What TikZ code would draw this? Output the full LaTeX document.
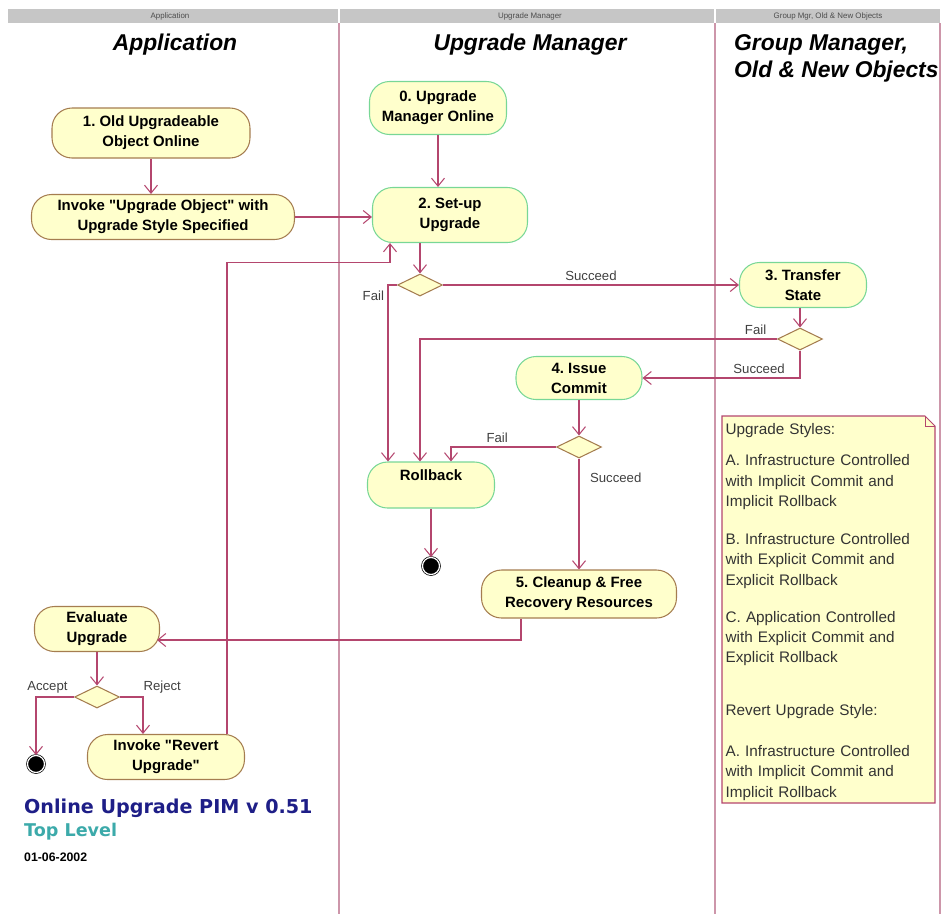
\documentclass[tikz,border=0pt]{standalone}
\usepackage{fontspec}
\setmainfont{Liberation Sans}
\newfontfamily\pimfont{DejaVu Sans}
\usetikzlibrary{arrows.meta, positioning, calc, shapes.geometric, backgrounds}
\definecolor{lanec}{RGB}{205,150,170}
\definecolor{flowc}{RGB}{180,70,110}
\definecolor{statefill}{RGB}{255,255,204}
\definecolor{brownedge}{RGB}{165,125,80}
\definecolor{greenedge}{RGB}{120,215,150}
\definecolor{pimblue}{RGB}{30,30,135}
\definecolor{levelteal}{RGB}{60,170,170}
\frenchspacing
\tikzset{
    >={Straight Barb[length=1.6mm, width=2.6mm]},
    act/.style={rectangle, rounded corners=0.4cm, fill=statefill, draw=brownedge,
        line width=0.6pt, align=center, inner sep=1pt,
        font=\bfseries\fontsize{8.5}{11.3}\selectfont},
    actg/.style={act, draw=greenedge},
    choice/.style={diamond, minimum width=0.9cm, minimum height=0.44cm,
        inner sep=0pt, fill=statefill, draw=brownedge, line width=0.6pt},
    final/.style={circle, fill=black, draw=black, double=white,
        double distance=0.7pt, minimum size=0.34cm, inner sep=0pt},
    flow/.style={->, draw=flowc, line width=0.6pt},
    guard/.style={font=\fontsize{7.5}{9}\selectfont, text=black!75, inner sep=2pt},
    lanetitle/.style={font=\bfseries\itshape\fontsize{13}{15.3}\selectfont},
    hdr/.style={font=\fontsize{4.5}{5}\selectfont, text=black!70}
}
\begin{document}
\begin{tikzpicture}[x=0.02cm, y=-0.02cm]
    \useasboundingbox (0,0) rectangle (943,914);
    % header bar
    \fill [gray!45] (8,9) rectangle (940,23);
    \foreach \x in {339, 715} {
        \draw [white, line width=1pt] (\x,9) -- (\x,23);
    }
    \node[hdr] (hA) at (170,16) {Application};
    \node[hdr] (hU) at (530,16) {Upgrade Manager};
    \node[hdr] (hG) at (828,16) {Group Mgr, Old \& New Objects};
    % swimlanes
    \foreach \x in {339, 715, 940} {
        \draw [lanec, line width=0.8pt] (\x,23) -- (\x,914);
    }
    \node[lanetitle] (tA) at (175,45) {Application};
    \node[lanetitle] (tU) at (530,45) {Upgrade Manager};
    \node[lanetitle, anchor=west, align=left] (tG) at (728,58) {Group Manager,\\Old \& New Objects};
    % activities
    \node[act, minimum width=3.96cm, minimum height=1cm] (old) at (151,133) {1. Old Upgradeable\\Object Online};
    \node[act, minimum width=5.26cm, minimum height=0.9cm] (inv) at (163,217) {Invoke \textquotedbl Upgrade Object\textquotedbl{} with\\Upgrade Style Specified};
    \node[actg, minimum width=2.74cm, minimum height=1.06cm] (umon) at (438,108) {0. Upgrade\\Manager Online};
    \node[actg, minimum width=3.1cm, minimum height=1.1cm] (setup) at (450,215) {2. Set-up\\Upgrade};
    \node[choice] (d1) at (420,285) {};
    \node[actg, minimum width=2.54cm, minimum height=0.9cm] (xfer) at (803,285) {3. Transfer\\State};
    \node[choice] (d2) at (800,339) {};
    \node[actg, minimum width=2.52cm, minimum height=0.86cm] (commit) at (579,378) {4. Issue\\Commit};
    \node[choice] (d3) at (579,447) {};
    \node[actg, minimum width=2.54cm, minimum height=0.92cm] (rb) at (431,485) {Rollback\\\mbox{}};
    \node[final] (end1) at (431,566) {};
    \node[act, minimum width=3.9cm, minimum height=0.96cm] (clean) at (579,594) {5. Cleanup \& Free\\Recovery Resources};
    \node[act, minimum width=2.5cm, minimum height=0.9cm] (eval) at (97,629) {Evaluate\\Upgrade};
    \node[choice] (d4) at (97,697) {};
    \node[act, minimum width=3.14cm, minimum height=0.9cm] (revert) at (166,757) {Invoke \textquotedbl Revert\\Upgrade\textquotedbl};
    \node[final] (end2) at (36,764) {};
    % flows
    \draw[flow] (old.south) -- (old.south |- inv.north);
    \draw[flow] (inv.east) -- (inv.east -| setup.west);
    \draw[flow] (umon.south) -- (umon.south |- setup.north);
    \draw[flow] ($(revert.north)+(61,0)$) |- ($(setup.south)+(-60,19)$) -- ($(setup.south)+(-60,0)$);
    \draw[flow] (setup.south -| d1) -- (d1.north);
    \draw[flow] (d1.east) -- node[guard, above] {Succeed} (xfer.west);
    \draw[flow] (d1.west) -| node[guard, left, pos=0.53] {Fail} ($(rb.north)+(-43,0)$);
    \draw[flow] (xfer.south -| d2) -- (d2.north);
    \draw[flow] (d2.west) -| node[guard, above, pos=0.03] {Fail} ($(rb.north)+(-11,0)$);
    \draw[flow] (d2.south) |- node[guard, above, pos=0.63] {Succeed} (commit.east);
    \draw[flow] (commit) -- (d3);
    \draw[flow] (d3.west) -| node[guard, above, pos=0.28] {Fail} ($(rb.north)+(20,0)$);
    \draw[flow] (d3.south) -- node[guard, right, pos=0.17, xshift=4pt] {Succeed} (clean.north);
    \draw[flow] (rb) -- (end1);
    \draw[flow] ($(clean.south)+(-58,0)$) |- ($(eval.east)+(-3,11)$);
    \draw[flow] (eval) -- (d4);
    \draw[flow] (d4.west) -| node[guard, above, pos=0.35] {Accept} (end2.north);
    \draw[flow] (d4.east) -| node[guard, anchor=south west, pos=0.5, xshift=-2pt] {Reject} ($(revert.north)+(-23,0)$);
    % note
    \node[anchor=north west, align=left, text width=4.1cm, inner sep=3pt,
        font=\fontsize{8.7}{11.6}\selectfont, text=black!80] (note) at (720,418) {Upgrade Styles:\\[6pt]
        A. Infrastructure Controlled\\with Implicit Commit and\\Implicit Rollback\\[10pt]
        B. Infrastructure Controlled\\with Explicit Commit and\\Explicit Rollback\\[9.5pt]
        C. Application Controlled\\with Explicit Commit and\\Explicit Rollback\\[18.4pt]
        Revert Upgrade Style:\\[11.6pt]
        A. Infrastructure Controlled\\with Implicit Commit and\\Implicit Rollback};
    \begin{scope}[on background layer]
        \draw [fill=statefill, draw=flowc, line width=0.6pt] (722,416) -- (925,416) -- (935,426) -- (935,803) -- (722,803) -- cycle;
        \draw [flowc, line width=0.4pt] (925,416) -- (925,426) -- (935,426);
    \end{scope}
    % title block
    \node[anchor=west, text=pimblue, font=\pimfont\bfseries\fontsize{10.9}{13}\selectfont] (pim) at (18,808) {Online Upgrade PIM v 0.51};
    \node[anchor=west, text=levelteal, font=\pimfont\bfseries\fontsize{10}{12}\selectfont] (lvl) at (18,832) {Top Level};
    \node[anchor=west, font=\bfseries\fontsize{7}{8}\selectfont] (date) at (18,857) {01-06-2002};
\end{tikzpicture}
\end{document}
